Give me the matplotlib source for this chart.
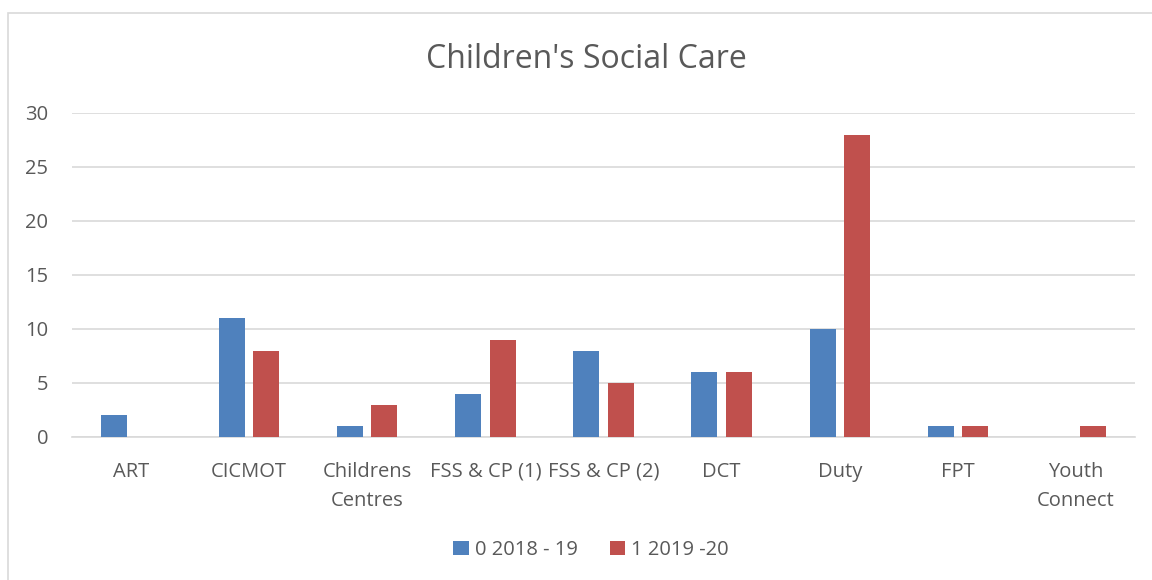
#!/usr/bin/env python3
# plot.py - Children's Social Care bar chart

import numpy as np
import matplotlib
matplotlib.use("Agg")
import matplotlib.pyplot as plt
from matplotlib.patches import Rectangle

# Data
categories = ['ART', 'CICMOT', 'Childrens\nCentres', 'FSS & CP (1)', 'FSS & CP (2)',
              'DCT', 'Duty', 'FPT', 'Youth\nConnect']
series_2018 = [2, 11, 1, 4, 8, 6, 10, 1, 0]
series_2019 = [0, 8, 3, 9, 5, 6, 28, 1, 1]
series_names = ['0 2018 - 19', '1 2019 -20']

plt.rcParams['font.family'] = ['Open Sans', 'DejaVu Sans']
text_col = '#595959'
grid_col = '#D9D9D9'

fig = plt.figure(figsize=(11.52, 5.80), dpi=100)
ax = fig.add_axes([72 / 1152, 1 - 437 / 580, (1135 - 72) / 1152, (437 - 113) / 580])

# outer chart border
fig.patches.append(Rectangle((8 / 1152, -0.1), 1.1, 1.1 - 13 / 580, transform=fig.transFigure,
                             fill=False, edgecolor='#D9D9D9', linewidth=1.2))

x = np.arange(len(categories))
w = 0.22
off = 0.145
ax.bar(x - off, series_2018, w, color='#4F81BD', label=series_names[0], zorder=3)
ax.bar(x + off, series_2019, w, color='#C0504D', label=series_names[1], zorder=3)

ax.set_xlim(-0.5, len(categories) - 0.5)
ax.set_ylim(0, 30)
ax.set_yticks(range(0, 31, 5))
ax.yaxis.grid(True, color=grid_col, linewidth=1.2, zorder=0)
ax.set_axisbelow(True)
for s in ['top', 'right', 'left']:
    ax.spines[s].set_visible(False)
ax.spines['bottom'].set_color(grid_col)
ax.spines['bottom'].set_linewidth(1.2)
ax.tick_params(length=0, colors=text_col, labelsize=14.5)
ax.tick_params(axis='x', pad=18)
ax.tick_params(axis='y', pad=17)
ax.set_xticks(x)
ax.set_xticklabels(categories, linespacing=1.6)

fig.text(0.509, 1 - 59 / 580, "Children's Social Care", ha='center', va='center',
         fontsize=23, color=text_col)

leg = fig.legend(loc='center', bbox_to_anchor=(0.513, 1 - 550 / 580), ncol=2, frameon=False,
                 fontsize=14.5, handlelength=0.75, handleheight=0.75, handletextpad=0.3,
                 columnspacing=1.6)
for t in leg.get_texts():
    t.set_color(text_col)

fig.savefig('out.png', dpi=100)
